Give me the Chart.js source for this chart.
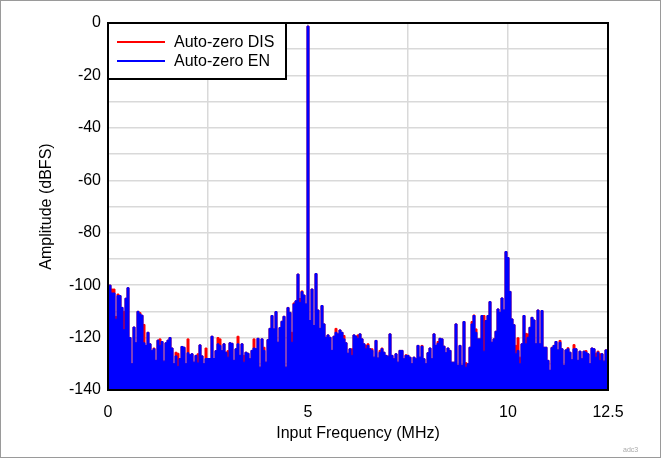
<!DOCTYPE html>
<html>
<head>
<meta charset="utf-8">
<script src="https://cdn.jsdelivr.net/npm/chart.js@4.4.0/dist/chart.umd.min.js"></script>
<style>
    html, body { margin: 0; padding: 0; background: #fff; }
    canvas { display: block; }
</style>
</head>
<body>
<canvas id="fftChart" width="661" height="458"></canvas>
<script>
// FFT bins are 0.05 MHz apart, first bin at 0 MHz
const binWidthMHz = 0.05;
const seriesNames = ['Auto-zero DIS', 'Auto-zero EN'];
const xTickLabels = [0, 5, 10, 12.5];
const yTickLabels = [0, -20, -40, -60, -80, -100, -120, -140];

// Auto-zero disabled (red), dBFS per bin
const azDisDbfs = [
    -100, -100, -101.5, -101.5, -112, -103.4, -104, -108.5, -110, -105,
    -101, -120, -130, -116, -122, -110, -110.5, -111.5, -115, -123,
    -118, -122.4, -125, -124, -128.7, -121, -120.5, -121.5, -129, -122,
    -121, -120, -124, -130, -125.6, -126, -128, -123.4, -123.7, -130,
    -120.5, -126.6, -126.2, -129.4, -126.8, -126.2, -122.8, -127, -130, -124,
    -128, -128, -119.5, -128, -125, -120, -120.5, -125, -122.4, -125.6,
    -125, -122,
    -122.2, -128.7, -124.3, -119.5, -126.8, -122.4, -126.8, -125.6, -126, -128.1,
    -124.9, -120.5, -124.3, -120.3, -131.3, -120.5, -123.7, -129.4, -120.8, -116.5,
    -111.6, -116.7, -110.1, -121.8, -116.2, -113.8, -111.9, -131.3, -108.5, -110.4,
    -118, -106.8, -106, -95.8, -105.1, -102.2, -103.8, -107.2, -1.2, -113.5,
    -101.5, -115.4, -95.6, -109.5, -116.5, -107.8, -114.8, -119.9, -119, -119.9,
    -124.9, -119.5, -116.5, -118.6, -117.1, -118, -119.2, -122, -126, -124.3,
    -124.3, -119,
    -119.5, -119, -118.6, -120.5, -122.4, -123, -122.4, -124.3, -124.3, -127.5,
    -121.1, -127.8, -124.9, -124, -125.6, -126.8, -127.1, -118.6, -126.8, -128.1,
    -126.2, -129.4, -124.9, -124.9, -128.1, -126.6, -126.8, -127.5, -130, -127.5,
    -128.1, -123, -127.5, -123, -128.1, -130, -125.8, -124, -128.1, -118.6,
    -123, -121.5, -120.3, -120.5, -123.3, -125.8, -124, -124.9, -129.4, -129.4,
    -114.8, -130.6, -123, -130.6, -113.9, -129.6, -130, -123.7, -113.9, -111.4,
    -116.7, -120.5,
    -120.5, -111.6, -111.6, -113.5, -111.6, -106.3, -121.8, -120.5, -117.6, -109.1,
    -110.4, -104.9, -109.5, -87.2, -89.5, -102.4, -112.9, -115.1, -123, -120.1,
    -127.5, -122.4, -111.6, -118.4, -118.6, -116.1, -112.3, -113.3, -122.4, -109.5,
    -122.4, -109.7, -123.7, -123.7, -128.7, -132.5, -123.7, -123, -121.5, -124.7,
    -121.1, -124.3, -130.6, -124.7, -123.9, -125.6, -128.5, -122.7, -124.3, -128.7,
    -125.2, -128.1, -125.2, -125, -126.2, -130, -124, -124.3, -126, -125.2,
    -126.2, -126.2, -129, -124.7, -125.6
];

// Auto-zero enabled (blue), dBFS per bin
const azEnDbfs = [
    -100, -100, -103, -103, -113, -104, -104, -108.5, -117, -105,
    -101, -120, -130, -116, -122, -110, -111, -111.5, -122, -123,
    -118, -122.4, -125, -124.3, -128.7, -121, -123, -121.5, -129, -122,
    -121, -120, -124, -130, -127, -131, -128, -123.4, -123.7, -130,
    -125.8, -126.6, -126.2, -129.4, -126.8, -129.7, -122.8, -127, -130, -128,
    -128, -128, -119.5, -128, -125, -122.4, -123, -125, -122.4, -125.6,
    -127.5, -122,
    -122.2, -128.7, -124.3, -122.4, -126.8, -122.4, -129.4, -125.6, -126, -128.1,
    -124.9, -124, -124.3, -120.3, -131.3, -120.5, -124.9, -129.4, -120.8, -116.5,
    -111.6, -116.7, -110.1, -121.8, -116.2, -113.8, -111.9, -131.3, -108.6, -110.4,
    -121.8, -107.2, -106, -95.8, -106.6, -102.5, -103.8, -107.2, -1.2, -113.5,
    -101.5, -115.4, -95.6, -109.5, -116.5, -107.8, -114.8, -119.9, -119, -119.9,
    -124.9, -119.5, -118, -118.6, -117.1, -118, -120.5, -122, -126, -124.3,
    -126.8, -119,
    -119.5, -120.3, -118.6, -120.5, -122.4, -124.3, -123, -124.3, -124.9, -127.5,
    -121.1, -127.8, -125.6, -124.3, -125.6, -126.8, -127.1, -118.6, -126.8, -128.1,
    -126.2, -129.4, -124.9, -124.9, -128.1, -126.8, -126.8, -127.5, -130, -127.5,
    -128.1, -123, -127.5, -123.3, -128.1, -130, -125.8, -124, -128.1, -118.6,
    -123, -122.2, -120.3, -120.5, -123.3, -125.8, -124, -124.9, -129.4, -129.4,
    -114.8, -130.6, -123, -130.6, -113.9, -131.3, -130, -123.7, -114.8, -111.6,
    -118, -120.5,
    -120.5, -111.6, -125.2, -113.5, -111.6, -106.3, -121.8, -120.5, -117.6, -109.1,
    -110.4, -104.9, -109.5, -87.2, -89.5, -102.4, -112.9, -115.1, -126.2, -124.9,
    -130, -122.4, -111.6, -122.4, -119.9, -116.1, -112.3, -113.3, -122.4, -109.5,
    -122.4, -109.7, -123.7, -123.7, -128.7, -132.5, -123.9, -123, -121.5, -124.7,
    -121.8, -124.3, -130.6, -124.7, -124.3, -125.6, -128.5, -124.3, -124.3, -128.7,
    -125.2, -128.1, -125.2, -125.6, -126.2, -130, -124, -124.3, -127.5, -125.6,
    -128.7, -126.2, -129, -124.7, -125.6
];

const seriesColors = ['#ff0000', '#0000ff'];
const fontFamily = '"Liberation Sans", Arial, sans-serif';

function toPoints(values) {
    return values.map((v, i) => ({ x: i * binWidthMHz, y: v }));
}

function spectrumDataset(label, values, color) {
    return {
        label: label,
        data: toPoints(values),
        borderColor: color,
        backgroundColor: color,
        borderWidth: 1,
        pointRadius: 0,
        stepped: 'middle',
        fill: 'start'
    };
}

// Plot frame, legend box and the small tag in the corner
const framePlugin = {
    id: 'frame',
    afterDraw(chart) {
        const ctx = chart.ctx;
        const a = chart.chartArea;
        ctx.save();

        ctx.strokeStyle = '#000';
        ctx.lineWidth = 2;
        ctx.strokeRect(a.left, a.top, a.right - a.left, a.bottom - a.top);

        // legend inside the plot, top-left corner
        const boxW = 178, boxH = 56;
        ctx.fillStyle = '#fff';
        ctx.fillRect(a.left, a.top, boxW, boxH);
        ctx.strokeRect(a.left, a.top, boxW, boxH);
        ctx.font = '16px ' + fontFamily;
        ctx.textBaseline = 'middle';
        ctx.textAlign = 'left';
        const rows = [a.top + 19, a.top + 38];
        seriesNames.forEach((name, i) => {
            ctx.strokeStyle = seriesColors[i];
            ctx.beginPath();
            ctx.moveTo(a.left + 9, rows[i]);
            ctx.lineTo(a.left + 57, rows[i]);
            ctx.stroke();
            ctx.fillStyle = '#000';
            ctx.fillText(name, a.left + 66, rows[i] + 1);
        });

        // outer image frame
        ctx.strokeStyle = '#9a9a9a';
        ctx.lineWidth = 1;
        ctx.strokeRect(0.5, 0.5, chart.width - 1, chart.height - 1);

        ctx.font = '7px ' + fontFamily;
        ctx.fillStyle = '#aaa';
        ctx.fillText('adc3', 623, 450);
        ctx.restore();
    }
};

const chart = new Chart(document.getElementById('fftChart').getContext('2d'), {
    type: 'line',
    data: {
        // blue first so it is painted over the red one
        datasets: [
            spectrumDataset(seriesNames[1], azEnDbfs, seriesColors[1]),
            spectrumDataset(seriesNames[0], azDisDbfs, seriesColors[0])
        ]
    },
    options: {
        responsive: false,
        animation: false,
        devicePixelRatio: 1,
        layout: { padding: { top: 23, right: 53, left: 0, bottom: 0 } },
        plugins: {
            legend: { display: false },
            tooltip: { enabled: false }
        },
        scales: {
            x: {
                type: 'linear',
                min: 0,
                max: 12.5,
                afterFit: s => { s.height = 68; },
                border: { display: false },
                grid: { color: '#d9d9d9', lineWidth: 1.5, drawTicks: false },
                ticks: {
                    stepSize: 2.5,
                    autoSkip: false,
                    maxRotation: 0,
                    padding: 13,
                    color: '#000',
                    font: { family: fontFamily, size: 16 },
                    callback: v => xTickLabels.includes(v) ? String(v) : ''
                },
                title: {
                    display: true,
                    text: 'Input Frequency (MHz)',
                    color: '#000',
                    font: { family: fontFamily, size: 16 },
                    padding: { top: 15, bottom: 15 }
                }
            },
            y: {
                min: -140,
                max: 0,
                afterFit: s => { s.width = 108; },
                border: { display: false },
                grid: { color: '#d9d9d9', lineWidth: 1.5, drawTicks: false },
                ticks: {
                    stepSize: 10,
                    autoSkip: false,
                    padding: 7,
                    color: '#000',
                    font: { family: fontFamily, size: 16 },
                    callback: v => yTickLabels.includes(v) ? String(v) : ''
                },
                title: {
                    display: true,
                    text: 'Amplitude (dBFS)',
                    color: '#000',
                    font: { family: fontFamily, size: 16 },
                    padding: { top: 37, bottom: 37 }
                }
            }
        }
    },
    plugins: [framePlugin]
});
</script>
</body>
</html>
